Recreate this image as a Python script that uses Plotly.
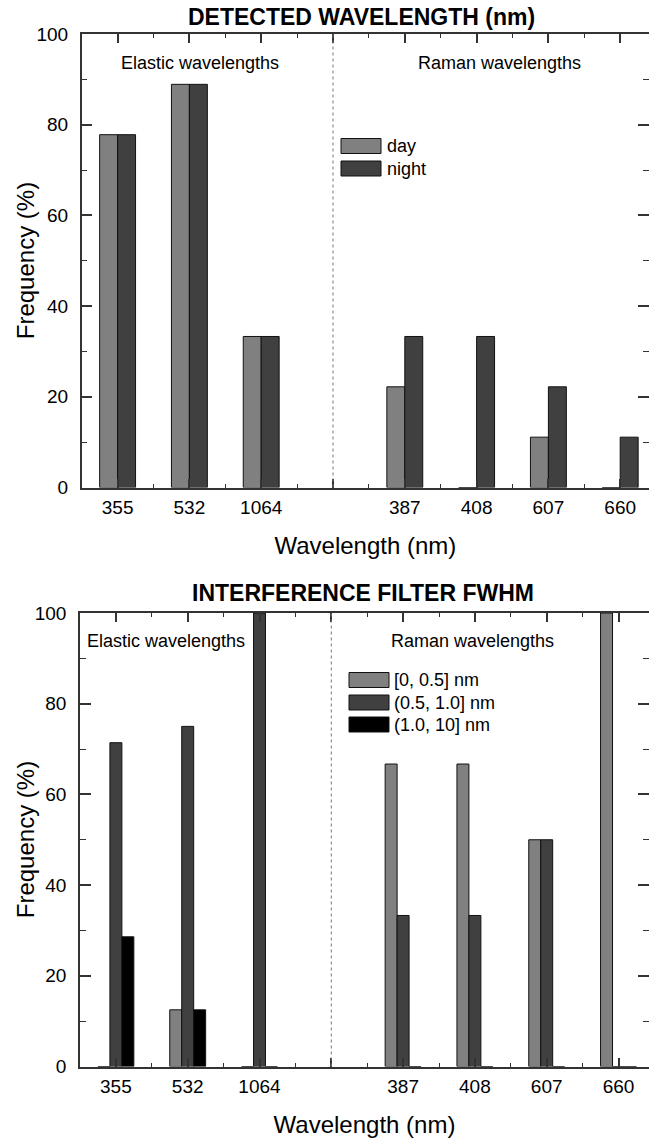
import plotly.graph_objects as go

# ---------------- data ----------------
categories = ["355", "532", "1064", "", "387", "408", "607", "660"]
positions = list(range(len(categories)))

day = [77.8, 88.9, 33.3, None, 22.2, 0.0, 11.1, 0.0]
night = [77.8, 88.9, 33.3, None, 33.3, 33.3, 22.2, 11.1]

fwhm_low = [0.0, 12.5, 0.0, None, 66.7, 66.7, 50.0, 100.0]     # [0, 0.5] nm
fwhm_mid = [71.4, 75.0, 100.0, None, 33.3, 33.3, 50.0, 0.0]    # (0.5, 1.0] nm
fwhm_high = [28.6, 12.5, 0.0, None, 0.0, 0.0, 0.0, 0.0]        # (1.0, 10] nm

y_ticks = [0, 20, 40, 60, 80, 100]
y_minor = [10, 30, 50, 70, 90]

# ---------------- helpers ----------------
W, H = 649, 1141
FONT = "Liberation Sans, Arial, sans-serif"
LINE = "#333333"


def fx(p):
    return p / W


def fy(p):
    return 1 - p / H


sep = categories.index("")
boundaries = [i + 0.5 for i in range(-1, len(categories))]

fig = go.Figure()

bar_line = dict(color="#111111", width=1)
fig.add_trace(go.Bar(x=positions, y=day, name="day", marker=dict(color="#808080", line=bar_line),
                     xaxis="x", yaxis="y", showlegend=False))
fig.add_trace(go.Bar(x=positions, y=night, name="night", marker=dict(color="#404040", line=bar_line),
                     xaxis="x", yaxis="y", showlegend=False))
fig.add_trace(go.Bar(x=positions, y=fwhm_low, name="[0, 0.5] nm", marker=dict(color="#808080", line=bar_line),
                     xaxis="x2", yaxis="y2", showlegend=False))
fig.add_trace(go.Bar(x=positions, y=fwhm_mid, name="(0.5, 1.0] nm", marker=dict(color="#404040", line=bar_line),
                     xaxis="x2", yaxis="y2", showlegend=False))
fig.add_trace(go.Bar(x=positions, y=fwhm_high, name="(1.0, 10] nm", marker=dict(color="#000000", line=bar_line),
                     xaxis="x2", yaxis="y2", showlegend=False))


def xaxis_main(domain_left, rng, anchor):
    return dict(
        domain=[fx(domain_left), 1], anchor=anchor, range=rng,
        tickmode="array", tickvals=positions, ticktext=categories,
        ticks="inside", ticklen=9, tickwidth=1.5, tickcolor=LINE,
        minor=dict(tickmode="array", tickvals=boundaries, ticks="inside", ticklen=4,
                   tickwidth=1.2, tickcolor=LINE, showgrid=False),
        showline=True, linecolor=LINE, linewidth=1.5, mirror="allticks",
        showgrid=False, zeroline=False, automargin=False,
        tickfont=dict(family=FONT, size=19, color="black"),
        ticklabelstandoff=2,
        title=dict(text="Wavelength (nm)", font=dict(family=FONT, size=24, color="black"), standoff=20),
        layer="above traces",
    )


def yaxis_main(top, bottom, anchor):
    return dict(
        domain=[fy(bottom), fy(top)], anchor=anchor, range=[0, 100],
        tickmode="array", tickvals=y_ticks,
        ticks="inside", ticklen=11, tickwidth=1.5, tickcolor=LINE,
        minor=dict(tickmode="array", tickvals=y_minor, ticks="inside", ticklen=6,
                   tickwidth=1.2, tickcolor=LINE, showgrid=False),
        showline=True, linecolor=LINE, linewidth=1.5, mirror="allticks",
        showgrid=False, zeroline=False, automargin=False,
        tickfont=dict(family=FONT, size=19, color="black"),
        ticklabelstandoff=8,
        layer="above traces",
    )


px_per_unit = 71.8
top_left, bot_left = 81.7, 80.0
rng_top = [-0.5, -0.5 + (W - top_left) / px_per_unit]
rng_bot = [-0.5, -0.5 + (W - bot_left) / px_per_unit]
top_panel = (34, 487.5)
bot_panel = (613, 1066.5)

fig.update_layout(
    width=W, height=H,
    margin=dict(l=0, r=0, t=0, b=0, pad=0),
    paper_bgcolor="white", plot_bgcolor="white",
    barmode="group", bargap=0.5, bargroupgap=0,
    font=dict(family=FONT, color="black"),
    showlegend=False,
    xaxis=xaxis_main(top_left, rng_top, "y"),
    yaxis=yaxis_main(*top_panel, "x"),
    xaxis2=xaxis_main(bot_left, rng_bot, "y2"),
    yaxis2=yaxis_main(*bot_panel, "x2"),
)

# separator lines between elastic and Raman wavelengths
for xr, yr in (("x", "y domain"), ("x2", "y2 domain")):
    fig.add_shape(type="line", xref=xr, yref=yr, x0=sep, x1=sep, y0=0, y1=1,
                  line=dict(color="#777777", width=1, dash="dot"), layer="above")

annotations = []


def txt(text, x, y, size, xanchor="center", bold=False, angle=0):
    annotations.append(dict(
        text=f"<b>{text}</b>" if bold else text, x=fx(x), y=fy(y), xref="paper", yref="paper",
        xanchor=xanchor, yanchor="middle", showarrow=False, textangle=angle,
        font=dict(family=FONT, size=size, color="black")))


txt("DETECTED WAVELENGTH (nm)", 361, 17, 23, bold=True)
txt("INTERFERENCE FILTER FWHM", 363, 593, 23, bold=True)
txt("Elastic wavelengths", 200, 63, 18)
txt("Raman wavelengths", 499, 63, 18)
txt("Elastic wavelengths", 166, 641, 18)
txt("Raman wavelengths", 472, 641, 18)
# y-axis titles
txt("Frequency (%)", 25.5, sum(top_panel) / 2, 24, angle=-90)
txt("Frequency (%)", 25.5, sum(bot_panel) / 2, 24, angle=-90)


# manual legends (wide swatches as in the reference)
def legend_block(entries, x0, x1, centers, text_x):
    for (label, color), cy in zip(entries, centers):
        fig.add_shape(type="rect", xref="paper", yref="paper",
                      x0=fx(x0), x1=fx(x1), y0=fy(cy + 7.5), y1=fy(cy - 7.5),
                      fillcolor=color, line=dict(color="#111111", width=1))
        txt(label, text_x, cy, 18, xanchor="left")


legend_block([("day", "#808080"), ("night", "#404040")], 341, 381, [146, 168.5], 385)
legend_block([("[0, 0.5] nm", "#808080"), ("(0.5, 1.0] nm", "#404040"), ("(1.0, 10] nm", "#000000")],
             349, 389, [680, 702.5, 724.5], 392)

fig.update_layout(annotations=annotations)

fig.write_html("out.html")
